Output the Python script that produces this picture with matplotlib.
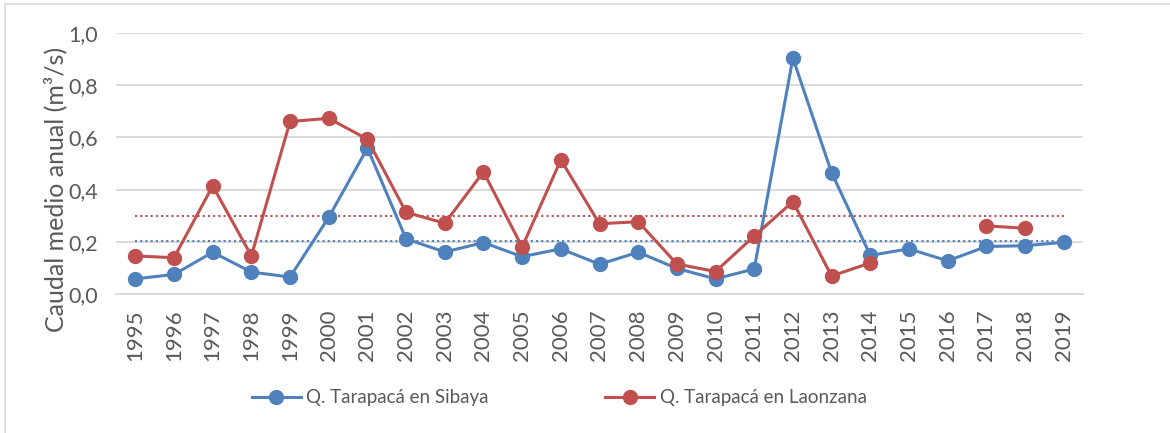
import numpy as np
import matplotlib.pyplot as plt
from matplotlib.patches import Rectangle

# annual mean flow (m3/s)
years = [str(y) for y in range(1995, 2020)]
sibaya = [0.058, 0.075, 0.160, 0.084, 0.065, 0.294, 0.559, 0.211, 0.161, 0.197,
          0.143, 0.173, 0.114, 0.160, 0.098, 0.058, 0.096, 0.904, 0.465, 0.148,
          0.173, 0.127, 0.182, 0.185, 0.198]
laonzana = [0.146, 0.139, 0.414, 0.146, 0.661, 0.673, 0.593, 0.313, 0.271, 0.468,
            0.180, 0.514, 0.269, 0.277, 0.115, 0.086, 0.222, 0.354, 0.069, 0.119,
            np.nan, np.nan, 0.261, 0.252, np.nan]
yticks = [0.0, 0.2, 0.4, 0.6, 0.8, 1.0]

blue = '#4F81BD'
red = '#C0504D'
grey_txt = '#595959'

plt.rcParams['font.family'] = ['Lato', 'DejaVu Sans']

fig = plt.figure(figsize=(11.7, 4.33), dpi=100)
ax = fig.add_axes([116/1170, 1 - 294/433, (1083 - 116)/1170, (294 - 33)/433])

x = np.arange(len(years))
sib = np.array(sibaya)
lao = np.array(laonzana)

# mean lines (dotted)
ax.plot(x, np.full(len(x), np.nanmean(sib)), color=blue, lw=1.5,
        linestyle=(0, (1, 1.5)), zorder=2)
ax.plot(x, np.full(len(x), np.nanmean(lao)), color=red, lw=1.5,
        linestyle=(0, (1, 1.5)), zorder=2)

ax.plot(x, sib, color=blue, lw=2.2, marker='o', markersize=10,
        label='Q. Tarapacá en Sibaya', zorder=3)
ax.plot(x, lao, color=red, lw=2.2, marker='o', markersize=10,
        label='Q. Tarapacá en Laonzana', zorder=4)

ax.set_xlim(-0.5, len(years) - 0.5)
ax.set_ylim(0, 1.0)
ax.set_xticks(x)
ax.set_xticklabels(years, rotation=90, fontsize=16, color=grey_txt)
ax.set_yticks(yticks)
ax.set_yticklabels([f'{v:.1f}'.replace('.', ',') for v in yticks],
                   fontsize=15.5, color=grey_txt)
ax.tick_params(axis='both', length=0)
ax.tick_params(axis='x', pad=11)
ax.tick_params(axis='y', pad=13)

ax.grid(axis='y', color='#D9D9D9', lw=1.3, zorder=0)
ax.set_axisbelow(True)
for s in ['top', 'right', 'left']:
    ax.spines[s].set_visible(False)
ax.spines['bottom'].set_color('#D9D9D9')
ax.spines['bottom'].set_linewidth(1.3)

ax.set_ylabel('Caudal medio anual (m³/s)', fontsize=18, color=grey_txt)
ax.yaxis.set_label_coords(-0.050, 0.402)

fig.legend(loc='center', bbox_to_anchor=(0.478, 1 - 398/433), ncol=2,
           frameon=False, fontsize=13.5, labelcolor=grey_txt,
           handlelength=2.6, columnspacing=6.2, handletextpad=0.3)

# chart border
fig.patches.append(Rectangle((5/1170, -0.05), 1.2, 1 - 4.5/433 + 0.05,
                             transform=fig.transFigure, fill=False,
                             edgecolor='#D9D9D9', lw=1.2))

fig.savefig('out.png', dpi=100)
